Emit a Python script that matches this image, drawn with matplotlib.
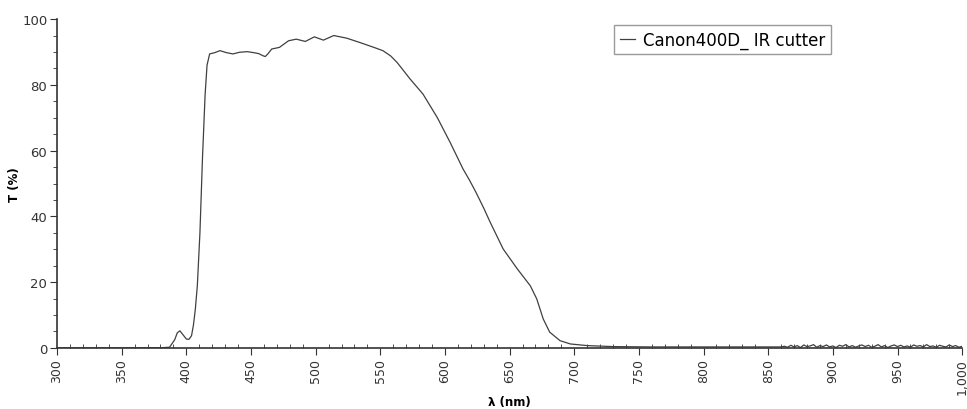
import matplotlib

matplotlib.use("Agg")
import matplotlib.pyplot as plt
from matplotlib.ticker import MultipleLocator, FuncFormatter

# transmission curve (wavelength nm, T %)
wavelength = [300, 340, 380, 387, 391, 393, 395, 397, 400, 402, 404, 405.5,
              407, 408.5, 410.5, 412.5, 414.5, 416, 418, 422, 426, 431, 436,
              441, 447, 452, 456, 459, 461, 463, 466, 472, 479, 485, 492,
              499, 506, 514, 524, 534, 545, 552, 558, 563, 573, 583, 594,
              604, 614, 619, 624, 630, 635, 645, 656, 666, 671, 676, 681,
              689, 697, 710, 730, 760, 800, 840, 860]
transmission = [0.0, 0.0, 0.05, 0.2, 2.5, 4.6, 5.2, 4.2, 2.7, 2.6, 3.7, 7.0,
                12.0, 19.0, 35.0, 58.0, 77.0, 86.0, 89.4, 89.8, 90.4, 89.8,
                89.4, 89.9, 90.1, 89.8, 89.5, 88.9, 88.6, 89.4, 90.9, 91.4,
                93.4, 93.9, 93.2, 94.6, 93.6, 95.0, 94.2, 92.9, 91.4, 90.4,
                88.8, 86.8, 81.8, 77.2, 70.1, 62.5, 54.4, 51.0, 47.3, 42.5,
                38.2, 30.1, 24.0, 18.9, 14.9, 8.8, 4.8, 2.2, 1.2, 0.7, 0.4,
                0.3, 0.3, 0.3, 0.3]

# noisy tail of the scan, 862.5 .. 1000 nm every 2.5 nm
tail_wavelength = [862.5 + 2.5 * i for i in range(56)]
tail_transmission = [0.5, 0.2, 0.8, 0.3, 0.7, 0.1, 0.9, 0.4, 0.6, 1.0,
                     0.2, 0.7, 0.4, 0.9, 0.3, 0.6, 0.1, 0.8, 0.5, 1.0,
                     0.3, 0.7, 0.2, 0.6, 0.9, 0.4, 0.8, 0.2, 0.5, 1.0,
                     0.3, 0.7, 0.1, 0.6, 0.9, 0.4, 0.8, 0.3, 0.6, 0.2,
                     0.9, 0.5, 0.7, 0.3, 1.0, 0.4, 0.6, 0.2, 0.8, 0.5,
                     0.3, 0.9, 0.4, 0.7, 0.2, 0.5]

x = wavelength + tail_wavelength
y = transmission + tail_transmission

LINE_COLOR = "#404040"

fig = plt.figure(figsize=(9.67, 4.10), dpi=100)
ax = fig.add_axes([0.059, 0.149, 0.936, 0.802])
ax.plot(x, y, color=LINE_COLOR, linewidth=0.9, label="Canon400D_ IR cutter")

ax.set_xlim(300, 1000)
ax.set_ylim(0, 100)
ax.xaxis.set_major_locator(MultipleLocator(50))
ax.xaxis.set_minor_locator(MultipleLocator(10))
ax.yaxis.set_major_locator(MultipleLocator(20))
ax.yaxis.set_minor_locator(MultipleLocator(5))
ax.xaxis.set_major_formatter(FuncFormatter(lambda v, p: f"{int(v):,}"))

for side in ("top", "right"):
    ax.spines[side].set_visible(False)
for side in ("left", "bottom"):
    ax.spines[side].set_color("#333333")
    ax.spines[side].set_linewidth(1.2)

ax.tick_params(axis="x", which="major", direction="out", length=5, pad=2,
               labelrotation=90, labelsize=9, colors="#333333")
ax.tick_params(axis="x", which="minor", direction="in", length=3,
               colors="#333333")
ax.tick_params(axis="y", which="major", direction="out", length=5, pad=2,
               labelsize=9.5, colors="#333333")
ax.tick_params(axis="y", which="minor", direction="out", length=3,
               colors="#333333")

ax.set_xlabel("λ (nm)", fontsize=8.5, fontweight="bold", labelpad=1)
ax.set_ylabel("T (%)", fontsize=8.5, fontweight="bold", labelpad=1)

leg = ax.legend(loc="upper left", bbox_to_anchor=(0.626, 0.958),
                bbox_transform=fig.transFigure, fontsize=12,
                handlelength=0.9, handletextpad=0.5, fancybox=False,
                borderpad=0.35, framealpha=1)
leg.get_frame().set_edgecolor("#9a9a9a")
leg.get_frame().set_linewidth(1.0)

fig.savefig("out.png", dpi=100)
